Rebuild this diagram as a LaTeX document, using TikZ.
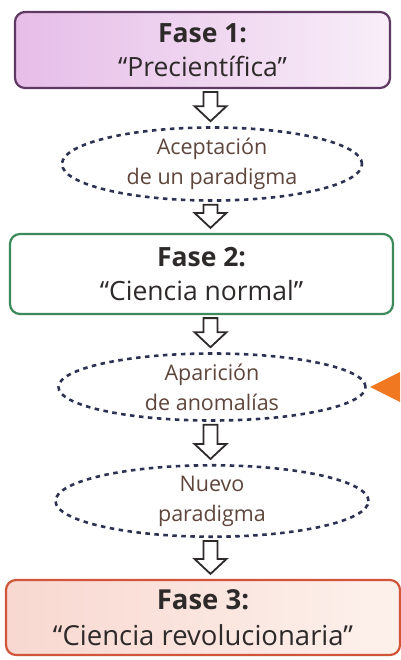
\documentclass[tikz,border=0pt]{standalone}
\usepackage{fontspec}
\setmainfont{Open Sans}
\usetikzlibrary{shapes.geometric,calc}
\definecolor{txt}{HTML}{2E2A2A}
\definecolor{eltxt}{HTML}{5E463C}
\definecolor{purpleb}{HTML}{5E3A62}
\definecolor{purplef1}{HTML}{E6BDE8}
\definecolor{purplef2}{HTML}{F8EEF8}
\definecolor{greenb}{HTML}{3C8A5C}
\definecolor{redb}{HTML}{D2553A}
\definecolor{redf1}{HTML}{F8D8D0}
\definecolor{redf2}{HTML}{FDF1EC}
\definecolor{navy}{HTML}{2C3250}
\definecolor{orangetri}{HTML}{F07820}
\tikzset{
  phase/.style={rounded corners=10pt, line width=2.2pt, align=center, text=txt,
    font=\fontsize{26.5}{34}\selectfont, inner sep=0pt},
  bubble/.style={ellipse, draw=navy, line width=2.6pt, dash pattern=on 4.5pt off 4.5pt,
    align=center, text=eltxt, font=\fontsize{21.5}{30}\selectfont, inner sep=0pt},
  harrow/.style={draw=txt, line width=1.8pt, fill=white, line join=miter}
}
\newcommand\hollowarrow[2]{%
  \path[harrow] let \p1=($(#1.south)+(0,-3pt)$), \p2=($(#2.north)+(0,5pt)$), \p3=(ax) in
    (\x3-7pt,\y1) -- (\x3+7pt,\y1) -- (\x3+7pt,\y2+15pt) -- (\x3+16pt,\y2+15pt)
    -- (\x3,\y2) -- (\x3-16pt,\y2+15pt) -- (\x3-7pt,\y2+15pt) -- cycle;}
\begin{document}
\begin{tikzpicture}[x=1pt,y=-1pt]
\useasboundingbox (0,0) rectangle (400,660);
\fill[white] (0,0) rectangle (400,660);
\coordinate (ax) at (210.5,0);
% phase boxes
\node[phase, draw=purpleb, left color=purplef1, right color=purplef2,
  minimum width=375pt, minimum height=76pt] (f1) at (202.5,50)
  {\textbf{Fase 1:}\\“Precientífica”};
\node[phase, draw=greenb, fill=white, minimum width=383pt, minimum height=80pt]
  (f2) at (201.5,274) {\textbf{Fase 2:}\\“Ciencia normal”};
\node[phase, draw=redb, left color=redf1, right color=redf2,
  minimum width=394pt, minimum height=75pt, font=\fontsize{27.5}{36}\selectfont]
  (f3) at (203,617.5) {\textbf{Fase 3:}\\“Ciencia revolucionaria”};
% ellipses
\node[bubble, minimum width=300pt, minimum height=65pt] (e1) at (212,164)
  {Aceptación\\de un paradigma};
\node[bubble, minimum width=307pt, minimum height=67pt] (e2) at (212,387)
  {Aparición\\de anomalías};
\node[bubble, minimum width=313pt, minimum height=71pt] (e3) at (212,501)
  {Nuevo\\paradigma};
% orange pointer
\fill[orangetri] (370,387) coordinate (tip) -- (400,372) -- (400,402) -- cycle;
% arrows
\hollowarrow{f1}{e1}
\hollowarrow{e1}{f2}
\hollowarrow{f2}{e2}
\hollowarrow{e2}{e3}
\hollowarrow{e3}{f3}
\end{tikzpicture}
\end{document}
